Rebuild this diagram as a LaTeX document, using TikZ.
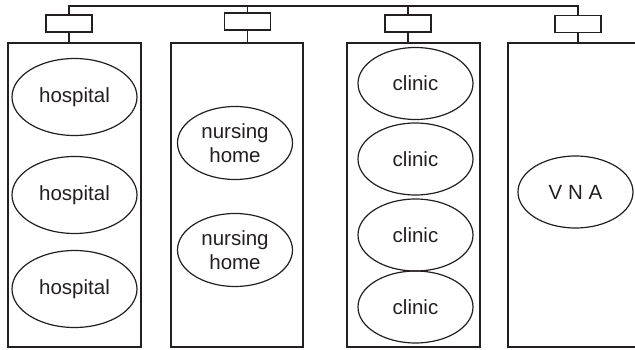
\documentclass[tikz,border=0pt]{standalone}
\usepackage{fontspec}
\setmainfont{Liberation Sans}
\usetikzlibrary{shapes.geometric}
\definecolor{ink}{HTML}{231F20}
\tikzset{
  ln/.style={line width=1.2pt, draw=ink},
  bigbox/.style={ln, rectangle, inner sep=0pt, minimum height=304pt},
  smallbox/.style={ln, rectangle, inner sep=0pt, minimum width=46pt, minimum height=17pt},
  place/.style={ln, ellipse, inner sep=0pt, minimum width=115pt, minimum height=72pt,
     align=center, text=ink, font=\fontsize{20.5}{24}\selectfont},
}
\begin{document}
\begin{tikzpicture}[x=1pt,y=-1pt]
\useasboundingbox (0,0) rectangle (635,350);
\clip (0,0) rectangle (635,350);
% big boxes
\node[bigbox, minimum width=133pt] (bb1) at (74.5,195) {};
\node[bigbox, minimum width=132pt] (bb2) at (237,195) {};
\node[bigbox, minimum width=133pt] (bb3) at (413.5,195) {};
\node[bigbox, minimum width=137pt] (bb4) at (576.5,195) {};
% small boxes
\node[smallbox] (sb1) at (69,23.5) {};
\node[smallbox] (sb2) at (247.5,21.5) {};
\node[smallbox] (sb3) at (408,23.5) {};
\node[smallbox] (sb4) at (578,24) {};
% top bus
\coordinate (t1) at (69,6);
\coordinate (t2) at (247.5,6);
\coordinate (t3) at (408,6);
\coordinate (t4) at (578,6);
\draw[ln, line cap=rect] (t1) -- (t4);
\draw[ln] (t1) -- (sb1.north);
\draw[ln] (t2) -- (sb2.north);
\draw[ln] (t3) -- (sb3.north);
\draw[ln] (t4) -- (sb4.north);
\draw[ln] (sb1.south) -- (sb1.south |- bb1.north);
\draw[ln] (sb2.south) -- (sb2.south |- bb2.north);
\draw[ln] (sb3.south) -- (sb3.south |- bb3.north);
\draw[ln] (sb4.south) -- (sb4.south |- bb4.north);
% hospitals
\node[place, minimum width=125pt, minimum height=77pt] (h1) at (74.5,97) {hospital};
\node[place, minimum width=125pt, minimum height=77pt] (h2) at (74.5,195) {hospital};
\node[place, minimum width=125pt, minimum height=77pt] (h3) at (74.5,289) {hospital};
% nursing homes
\node[place, minimum height=73pt] (n1) at (235,143) {nursing\\home};
\node[place, minimum height=73pt] (n2) at (235,250) {nursing\\home};
% clinics
\node[place] (c1) at (415.5,83.5) {clinic};
\node[place] (c2) at (415.5,159) {clinic};
\node[place] (c3) at (415.5,235) {clinic};
\node[place] (c4) at (415.5,307) {clinic};
% VNA
\node[place] (v) at (575.5,192) {V N A};
\end{tikzpicture}
\end{document}
